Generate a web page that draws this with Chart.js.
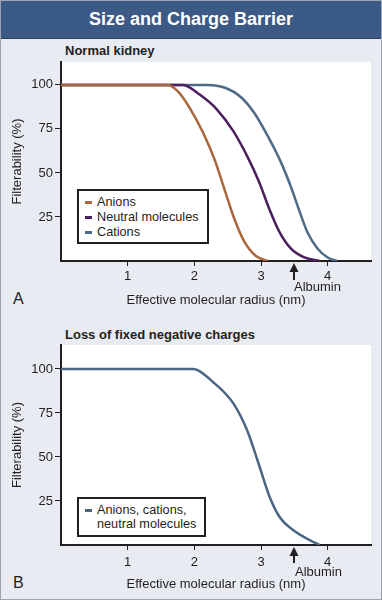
<!DOCTYPE html>
<html><head><meta charset="utf-8">
<script src="https://cdn.jsdelivr.net/npm/chart.js@4/dist/chart.umd.min.js"></script>
<style>
html,body{margin:0;padding:0;}
body{width:382px;height:600px;position:relative;background:#e8ebf1;font-family:"Liberation Sans",Arial,sans-serif;overflow:hidden;color:#231f20;}
#frame{position:absolute;left:0;top:0;width:382px;height:600px;box-sizing:border-box;border:1px solid #9ea3ad;pointer-events:none;z-index:5}
#header{position:absolute;left:0;top:0;width:382px;height:38px;background:#3c5a86;border-bottom:1px solid #2a3f60;color:#fff;font-weight:bold;font-size:18px;line-height:38px;text-align:center;}
.ptitle{position:absolute;left:65px;font-weight:bold;font-size:13px;line-height:16px;white-space:nowrap}
.plabel{position:absolute;left:13px;font-size:16px;line-height:20px;}
.wrap{position:absolute;left:0;width:382px;}
.legend{position:absolute;box-sizing:border-box;background:#fff;border:2px solid #231f20;font-size:12.7px;}
.legend .row{position:absolute;left:6px;white-space:nowrap;line-height:15px}
.legend .mk{position:absolute;left:0;top:6px;width:7px;height:3px}
.legend .tx{padding-left:12px;line-height:14px}
</style></head>
<body>
<div id="header">Size and Charge Barrier</div>
<div class="ptitle" style="top:43px">Normal kidney</div>
<div class="ptitle" style="top:327px">Loss of fixed negative charges</div>
<div class="plabel" style="top:289px">A</div>
<div class="plabel" style="top:573px">B</div>
<div class="wrap" style="top:40px;height:270px"><canvas id="cA" width="382" height="270"></canvas></div>
<div class="wrap" style="top:320px;height:280px"><canvas id="cB" width="382" height="280"></canvas></div>
<div class="legend" id="legA" style="left:77px;top:189px;width:132px;height:55px"></div>
<div class="legend" id="legB" style="left:77px;top:497px;width:129px;height:40px"></div>
<div id="frame"></div>
<script>
// ---- data ----
const xTicks = [1, 2, 3, 4];
const yTicks = [25, 50, 75, 100];
const xTitle = 'Effective molecular radius (nm)';
const yTitle = 'Filterability (%)';
const albuminX = 3.5;
const albuminLabel = 'Albumin';

const seriesNames = ['Anions', 'Neutral molecules', 'Cations'];
const anionsX  = [0, 1.6, 1.75, 1.93, 2.13, 2.3, 2.45, 2.6, 2.75, 2.92, 3.1];
const anionsY  = [100, 100, 96.5, 87, 73, 58, 41, 24, 11, 3, 0];
const neutralX = [0, 1.83, 2.08, 2.34, 2.58, 2.8, 2.97, 3.12, 3.27, 3.45, 3.65, 3.88];
const neutralY = [100, 100, 94.5, 86, 74, 59, 45, 30, 17, 7, 2, 0];
const cationsX = [0, 2.2, 2.45, 2.7, 2.9, 3.1, 3.3, 3.45, 3.58, 3.7, 3.85, 4.0, 4.14];
const cationsY = [100, 100, 98.5, 93, 84, 71, 56, 42, 28, 16, 7, 2, 0];

const lossName = ['Anions, cations,', 'neutral molecules'];
const lossX = [0, 1.98, 2.28, 2.58, 2.79, 2.98, 3.13, 3.28, 3.48, 3.73, 3.88];
const lossY = [100, 100, 92.6, 80.7, 65.3, 44.3, 27.3, 15.9, 8.5, 2.8, 0];

// ---- styles ----
const INK = '#231f20';
const FAM = '"Liberation Sans", Arial, sans-serif';
const colorsA = ['#a8683c', '#4b1f5e', '#4e6b88'];
const colorB = '#4b6683';

const pts = (xs, ys) => xs.map((x, i) => ({x: x, y: ys[i]}));

const bgPlugin = {id: 'bgwhite', beforeDraw(c) {
  const {ctx, chartArea: a} = c;
  ctx.save(); ctx.fillStyle = '#fff';
  ctx.fillRect(a.left, a.top, a.right - a.left, a.bottom - a.top);
  ctx.restore();
}};
const albuminPlugin = {id: 'albumin', afterDraw(c, args, o) {
  const ctx = c.ctx;
  const x = Math.round(c.scales.x.getPixelForValue(o.value));
  const y0 = c.chartArea.bottom;
  ctx.save();
  ctx.strokeStyle = INK; ctx.fillStyle = INK; ctx.lineWidth = 2;
  ctx.beginPath(); ctx.moveTo(x, y0 + 9); ctx.lineTo(x, y0 + o.len); ctx.stroke();
  ctx.beginPath(); ctx.moveTo(x, y0 + 2); ctx.lineTo(x - 4.5, y0 + 11); ctx.lineTo(x + 4.5, y0 + 11); ctx.closePath(); ctx.fill();
  ctx.font = '13px ' + FAM; ctx.textBaseline = 'middle'; ctx.textAlign = 'left';
  ctx.fillText(o.text, x + o.dx, y0 + o.labelDy);
  ctx.restore();
}};

function makeChart(id, datasets, g) {
  return new Chart(document.getElementById(id), {
    type: 'line',
    data: {datasets: datasets},
    plugins: [bgPlugin, albuminPlugin],
    options: {
      responsive: false, animation: false, devicePixelRatio: 1,
      layout: {padding: {top: g.padTop, right: 11, bottom: 0, left: 0}},
      elements: {point: {radius: 0}, line: {borderWidth: 2.5, cubicInterpolationMode: 'monotone'}},
      plugins: {legend: {display: false}, tooltip: {enabled: false}, title: {display: false},
        albumin: {value: albuminX, text: albuminLabel, len: g.arrowLen, labelDy: g.labelDy, dx: g.labelDx}},
      scales: {
        x: {type: 'linear', min: 0, max: 4.65,
          afterBuildTicks: s => { s.ticks = xTicks.map(v => ({value: v})); },
          afterFit: s => { s.height = g.xH; },
          border: {display: true, color: INK, width: 2},
          grid: {display: true, drawOnChartArea: false, drawTicks: true, tickLength: 5, tickColor: INK, tickWidth: 1},
          ticks: {color: INK, font: {size: 13, family: FAM}, padding: g.xTickPad, maxRotation: 0, autoSkip: false},
          title: {display: true, text: xTitle, color: INK, font: {size: 13, family: FAM}, padding: {top: 0, bottom: g.xTitlePad}}
        },
        y: {type: 'linear', min: 0, max: g.yMax,
          afterBuildTicks: s => { s.ticks = yTicks.map(v => ({value: v})); },
          afterFit: s => { s.width = 61; },
          border: {display: true, color: INK, width: 2},
          grid: {display: true, drawOnChartArea: false, drawTicks: true, tickLength: 6, tickColor: INK, tickWidth: 1},
          ticks: {color: INK, font: {size: 13, family: FAM}, padding: 2},
          title: {display: true, text: yTitle, color: INK, font: {size: 13, family: FAM}, padding: {top: 10, bottom: 0}}
        }
      }
    }
  });
}

makeChart('cA', [
  {label: seriesNames[0], data: pts(anionsX, anionsY), borderColor: colorsA[0]},
  {label: seriesNames[1], data: pts(neutralX, neutralY), borderColor: colorsA[1]},
  {label: seriesNames[2], data: pts(cationsX, cationsY), borderColor: colorsA[2]}
], {padTop: 22, xH: 49, xTickPad: 3, xTitlePad: 2.2, yMax: 113, arrowLen: 19, labelDy: 26, labelDx: 0});

makeChart('cB', [
  {label: lossName.join(' '), data: pts(lossX, lossY), borderColor: colorB}
], {padTop: 25, xH: 55, xTickPad: 5, xTitlePad: 8.2, yMax: 113.6, arrowLen: 18, labelDy: 27, labelDx: 1});

// ---- HTML legends ----
function legendRow(parent, top, color, lines) {
  const r = document.createElement('div'); r.className = 'row'; r.style.top = top + 'px';
  const m = document.createElement('span'); m.className = 'mk'; m.style.background = color;
  const t = document.createElement('div'); t.className = 'tx'; t.innerHTML = lines.join('<br>');
  r.appendChild(m); r.appendChild(t); parent.appendChild(r);
}
const legA = document.getElementById('legA');
seriesNames.forEach((n, i) => legendRow(legA, 4 + i * 15, colorsA[i], [n]));
legendRow(document.getElementById('legB'), 4, colorB, lossName);
</script>
</body></html>
